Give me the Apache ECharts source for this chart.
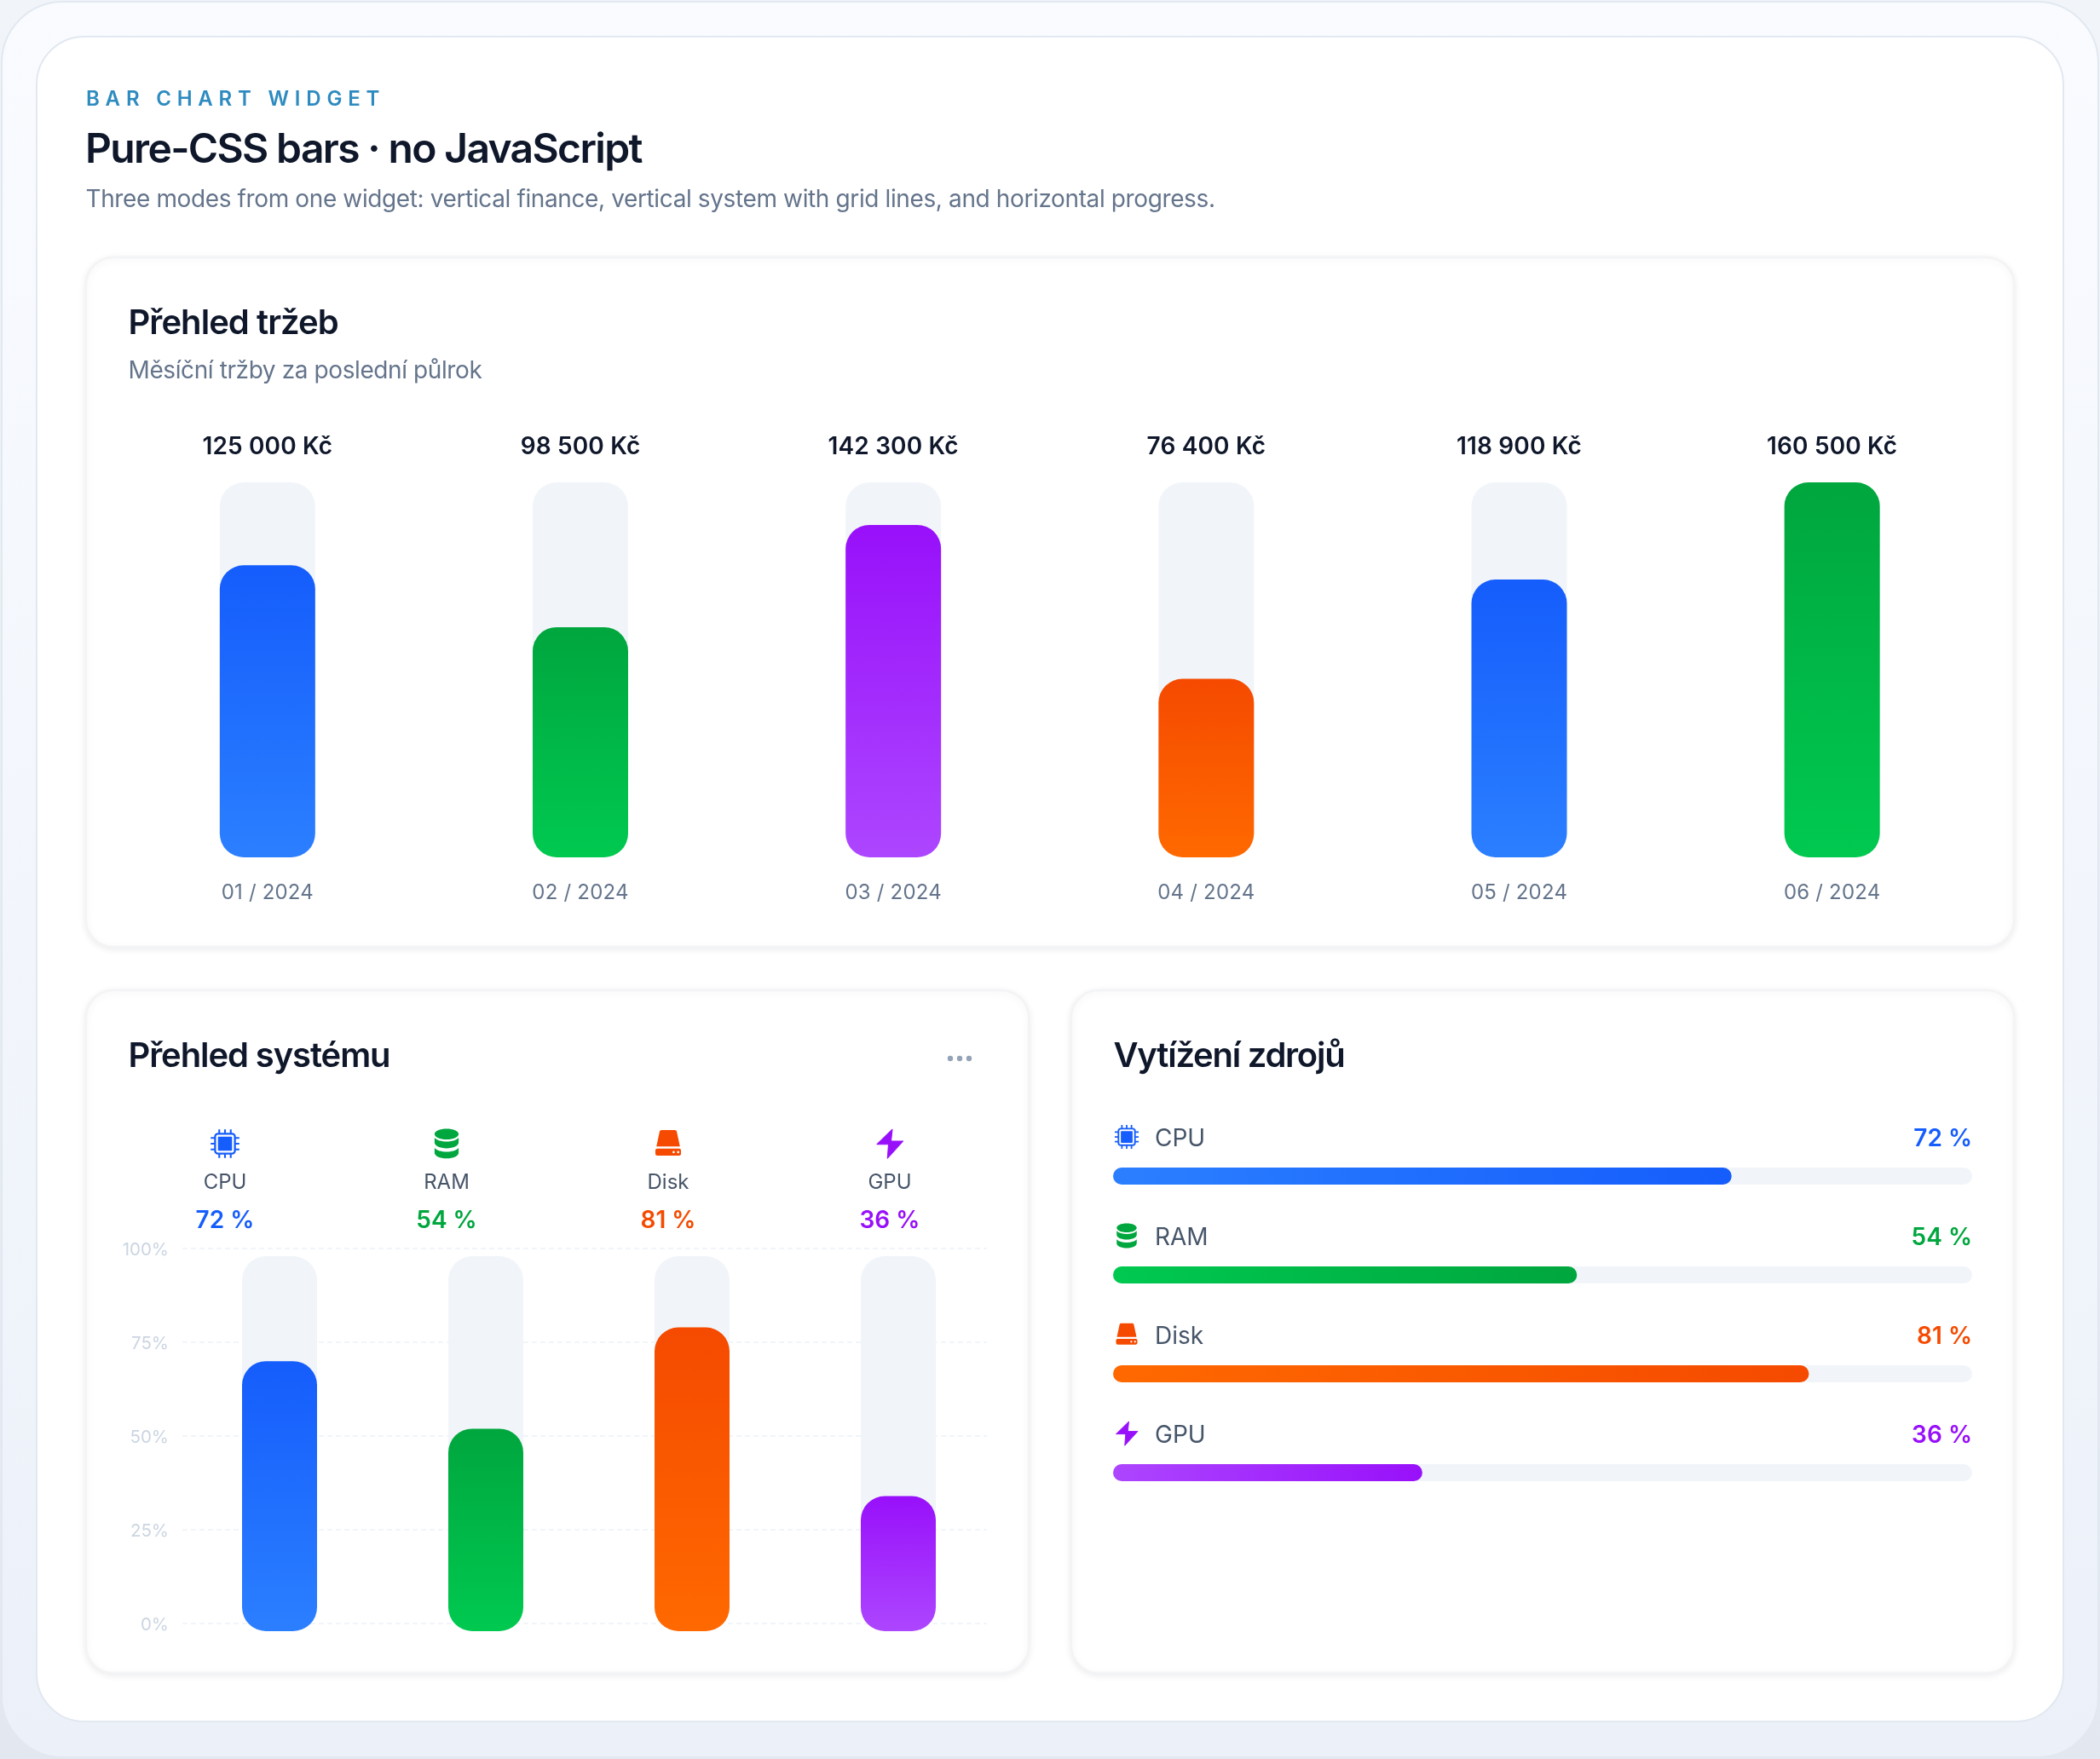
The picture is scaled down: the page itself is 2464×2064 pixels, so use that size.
<!DOCTYPE html>
<html>
<head>
<meta charset="utf-8">
<title>Bar chart widget</title>
<script src="https://cdn.jsdelivr.net/npm/echarts@6/dist/echarts.min.js"></script>
<style>
  html, body { margin: 0; padding: 0; background: #e9eef5; }
  #chart { width: 2464px; height: 2064px; }
</style>
</head>
<body>
<div id="chart"></div>
<script>
// Monthly revenue panel
const months = ['01 / 2024', '02 / 2024', '03 / 2024', '04 / 2024', '05 / 2024', '06 / 2024'];
const revenue = [125000, 98500, 142300, 76400, 118900, 160500];
const revenueColors = ['blue', 'green', 'purple', 'orange', 'blue', 'green'];

// System load panels
const resources = ['CPU', 'RAM', 'Disk', 'GPU'];
const load = [72, 54, 81, 36];
const loadColors = ['blue', 'green', 'orange', 'purple'];
const loadTicks = [0, 25, 50, 75, 100];

// [darker, lighter] ends of each bar gradient
const palette = {
  blue: ['#155dfc', '#2b7fff'],
  green: ['#00a63e', '#00c950'],
  purple: ['#9810fa', '#ad46ff'],
  orange: ['#f54a00', '#ff6900']
};
const INK = '#0f172a', MUTED = '#64748b', LABEL = '#475569', FAINT = '#cbd5e1', TRACK = '#f1f5f9';
const FONT = 'Inter, "Noto Sans", sans-serif';

const formatKc = v => String(v).replace(/\B(?=(\d{3})+$)/g, ' ') + ' Kč';
const formatPct = v => v + ' %';

// Canvas letter-spacing for the strings that need it; zrender has no option for this.
const tracking = {
  'BAR CHART WIDGET': '6.8px',
  'Pure-CSS bars · no JavaScript': '-1.65px',
  'Přehled tržeb': '-0.95px',
  'Přehled systému': '-1.1px',
  'Vytížení zdrojů': '-1.25px',
  'Three modes from one widget: vertical finance, vertical system with grid lines, and horizontal progress.': '-0.38px',
  'Měsíční tržby za poslední půlrok': '-0.4px'
};
revenue.map(formatKc).forEach(label => { tracking[label] = '0.15px'; });
months.forEach(label => { tracking[label] = '0.2px'; });

const nativeFillText = CanvasRenderingContext2D.prototype.fillText;
CanvasRenderingContext2D.prototype.fillText = function (text, x, y, maxWidth) {
  const spacing = tracking[text];
  if (spacing) this.letterSpacing = spacing;
  if (maxWidth === undefined) nativeFillText.call(this, text, x, y);
  else nativeFillText.call(this, text, x, y, maxWidth);
  if (spacing) this.letterSpacing = '0px';
};

const verticalFill = name => new echarts.graphic.LinearGradient(0, 0, 0, 1, [
  { offset: 0, color: palette[name][0] },
  { offset: 1, color: palette[name][1] }
]);
const horizontalFill = name => new echarts.graphic.LinearGradient(0, 0, 1, 0, [
  { offset: 0, color: palette[name][1] },
  { offset: 1, color: palette[name][0] }
]);

// Icons on a 24-unit box
const pinStops = [7.5, 12, 16.5];
const cpuPins = pinStops.map(p =>
  `M${p - 0.7} 0.8h1.4v2.7h-1.4Z M${p - 0.7} 20.5h1.4v2.7h-1.4Z M0.8 ${p - 0.7}h2.7v1.4h-2.7Z M20.5 ${p - 0.7}h2.7v1.4h-2.7Z`
).join(' ');
const iconPaths = {
  CPU: 'M6.5 3.5h11a3 3 0 0 1 3 3v11a3 3 0 0 1-3 3h-11a3 3 0 0 1-3-3v-11a3 3 0 0 1 3-3Z ' +
       'M6.5 5a1.5 1.5 0 0 0-1.5 1.5v11a1.5 1.5 0 0 0 1.5 1.5h11a1.5 1.5 0 0 0 1.5-1.5v-11a1.5 1.5 0 0 0-1.5-1.5Z ' +
       'M7 6.5h10a.5 .5 0 0 1 .5 .5v10a.5 .5 0 0 1-.5 .5h-10a.5 .5 0 0 1-.5-.5v-10a.5 .5 0 0 1 .5-.5Z ' + cpuPins,
  RAM: 'M21.4 4.5C21.4 6.9 17.2 8.7 12 8.7S2.6 6.9 2.6 4.5S6.8 0.3 12 0.3S21.4 2.1 21.4 4.5Z ' +
       'M2.6 7.4C4.4 9.4 8 10.4 12 10.4S19.6 9.4 21.4 7.4V11.2C21.4 13.6 17.2 15.6 12 15.6S2.6 13.6 2.6 11.2Z ' +
       'M2.6 15.3C4.4 17.3 8 18.3 12 18.3S19.6 17.3 21.4 15.3V19.1C21.4 21.5 17.2 23.5 12 23.5S2.6 21.5 2.6 19.1Z',
  Disk: 'M6.8 1.3H17.2C18 1.3 18.5 1.8 18.7 2.5L21.2 14.2H2.8L5.3 2.5C5.5 1.8 6 1.3 6.8 1.3Z ' +
        'M3.5 15.9H20.5C21.4 15.9 22 16.5 22 17.4V19.8C22 20.7 21.4 21.3 20.5 21.3H3.5C2.6 21.3 2 20.7 2 19.8V17.4C2 16.5 2.6 15.9 3.5 15.9Z ' +
        'M17.2 18.6a.9 .9 0 1 0-1.8 0a.9 .9 0 1 0 1.8 0Z M20.7 18.6a.9 .9 0 1 0-1.8 0a.9 .9 0 1 0 1.8 0Z',
  GPU: 'M14 0.8L2 12.5H11L10.2 23.4L22.4 10H13Z'
};
// The graphic component only knows registered shape types, so each icon gets one.
Object.keys(iconPaths).forEach(name => {
  echarts.graphic.registerShape('icon' + name, echarts.graphic.extendPath(iconPaths[name], {}));
});

function icon(name, color, cx, cy, scale) {
  return {
    type: 'icon' + name,
    x: cx - 12 * scale,
    y: cy - 12 * scale,
    scaleX: scale,
    scaleY: scale,
    shape: {},
    style: name === 'GPU'
      ? { fill: color, stroke: color, lineWidth: 0.7, lineJoin: 'round' }
      : { fill: color }
  };
}

function text(content, x, y, size, weight, color, align) {
  return {
    type: 'text',
    style: {
      text: content, x, y,
      fontSize: size, fontWeight: weight, fontFamily: FONT, fill: color,
      textAlign: align || 'left', textVerticalAlign: 'middle',
      align: align || 'left', verticalAlign: 'middle'
    }
  };
}

function panel(x, y, w, h) {
  return {
    type: 'rect', z: -2,
    shape: { x, y, width: w, height: h, r: 32 },
    style: {
      fill: '#fff', stroke: '#f3f4f6', lineWidth: 2.5,
      shadowBlur: 8, shadowOffsetY: 2, shadowColor: 'rgba(15,23,42,0.07)'
    }
  };
}

const graphics = [
  // Window, sheet and panels
  {
    type: 'rect', z: -5,
    shape: { x: 0, y: 0, width: 2464, height: 2064 },
    style: { fill: new echarts.graphic.LinearGradient(0, 0, 0, 1, [
      { offset: 0, color: '#f1f5fa' }, { offset: 1, color: '#e3e8f0' }
    ]) }
  },
  {
    type: 'rect', z: -4,
    shape: { x: 2, y: 2, width: 2460, height: 2060, r: 72 },
    style: {
      fill: new echarts.graphic.LinearGradient(0, 0, 0, 1, [
        { offset: 0, color: '#f9fbff' }, { offset: 1, color: '#ecf1f9' }
      ]),
      stroke: '#e2e8f0', lineWidth: 2
    }
  },
  {
    type: 'rect', z: -3,
    shape: { x: 43, y: 43, width: 2378, height: 1977, r: 56 },
    style: { fill: '#fff', stroke: '#e2e8f0', lineWidth: 2 }
  },
  panel(101, 302, 2262, 809),
  panel(101, 1162, 1106, 801),
  panel(1257, 1162, 1106, 801),

  // Headings
  text('BAR CHART WIDGET', 101, 117, 24, 600, '#2e8bc0'),
  text('Pure-CSS bars · no JavaScript', 100, 177, 48, 600, INK),
  text('Three modes from one widget: vertical finance, vertical system with grid lines, and horizontal progress.', 100.5, 235, 28, 400, MUTED),
  text('Přehled tržeb', 150.5, 380, 40, 600, INK),
  text('Měsíční tržby za poslední půlrok', 150.5, 436, 28, 400, MUTED),
  text('Přehled systému', 150.5, 1240, 40, 600, INK),
  text('Vytížení zdrojů', 1306.5, 1240, 40, 600, INK)
];

// Overflow menu dots
[1115, 1126, 1137].forEach(cx => {
  graphics.push({ type: 'circle', shape: { cx, cy: 1242, r: 3.2 }, style: { fill: '#94a3b8' } });
});

// Column headers above the vertical load bars, then row headers of the horizontal ones
resources.forEach((name, i) => {
  const color = palette[loadColors[i]][0];
  const cx = 264 + 260 * i;
  graphics.push(icon(name, color, cx, 1342, 1.5));
  graphics.push(text(name, cx, 1387.5, 24, 400, LABEL, 'center'));
  graphics.push(text(formatPct(load[i]), cx, 1433, 28, 600, color, 'center'));

  const cy = 1334 + 116 * i;
  graphics.push(icon(name, color, 1322, cy, 1.25));
  graphics.push(text(name, 1355, cy + 2.5, 28, 400, LABEL));
  graphics.push(text(formatPct(load[i]), 2314, cy + 2.5, 28, 600, color, 'right'));
});

const chart = echarts.init(document.getElementById('chart'), null, { renderer: 'canvas' });

const hiddenAxisParts = {
  axisLine: { show: false },
  axisTick: { show: false },
  splitLine: { show: false }
};

const trackStyle = radius => ({ color: TRACK, borderRadius: radius });

chart.setOption({
  animation: false,
  backgroundColor: 'transparent',
  graphic: { elements: graphics },
  grid: [
    { left: 130.25, top: 566, width: 2203, height: 440 },
    { left: 214, top: 1465, width: 944, height: 440 },
    { left: 207, top: 1474, width: 968, height: 440 },
    { left: 1306, top: 1322, width: 1008, height: 464 }
  ],
  xAxis: [
    {
      gridIndex: 0, type: 'category', position: 'bottom', data: months, ...hiddenAxisParts,
      axisLabel: { interval: 0, margin: 41.5, verticalAlign: 'middle', color: MUTED, fontSize: 24, fontFamily: FONT }
    },
    {
      gridIndex: 0, type: 'category', position: 'top', data: revenue.map(formatKc), ...hiddenAxisParts,
      axisLabel: { interval: 0, margin: 41, verticalAlign: 'middle', color: INK, fontSize: 28, fontWeight: 600, fontFamily: FONT }
    },
    { gridIndex: 1, type: 'category', data: resources, show: false },
    { gridIndex: 2, type: 'category', data: resources, show: false },
    { gridIndex: 3, type: 'value', min: 0, max: 100, show: false }
  ],
  yAxis: [
    { gridIndex: 0, type: 'value', min: 0, max: Math.max(...revenue), show: false },
    {
      gridIndex: 1, type: 'value', min: loadTicks[0], max: loadTicks[loadTicks.length - 1], interval: 25,
      axisLine: { show: false }, axisTick: { show: false },
      axisLabel: { formatter: '{value}%', margin: 16, lineHeight: 4, verticalAlign: 'top', color: FAINT, fontSize: 20.5, fontFamily: FONT },
      splitLine: { show: true, lineStyle: { color: TRACK, width: 2, type: [6, 4] } }
    },
    { gridIndex: 2, type: 'value', min: 0, max: 100, show: false },
    { gridIndex: 3, type: 'category', inverse: true, data: resources, show: false }
  ],
  series: [
    {
      type: 'bar', xAxisIndex: 0, yAxisIndex: 0, barWidth: 112,
      showBackground: true, backgroundStyle: trackStyle(28),
      itemStyle: { borderRadius: 28 },
      data: revenue.map((v, i) => ({ value: v, itemStyle: { color: verticalFill(revenueColors[i]) } }))
    },
    {
      type: 'bar', xAxisIndex: 3, yAxisIndex: 2, barWidth: 88,
      showBackground: true, backgroundStyle: trackStyle(28),
      itemStyle: { borderRadius: 28 },
      data: load.map((v, i) => ({ value: v, itemStyle: { color: verticalFill(loadColors[i]) } }))
    },
    {
      type: 'bar', xAxisIndex: 4, yAxisIndex: 3, barWidth: 20,
      showBackground: true, backgroundStyle: trackStyle(10),
      itemStyle: { borderRadius: 10 },
      data: load.map((v, i) => ({ value: v, itemStyle: { color: horizontalFill(loadColors[i]) } }))
    }
  ]
});
</script>
</body>
</html>
